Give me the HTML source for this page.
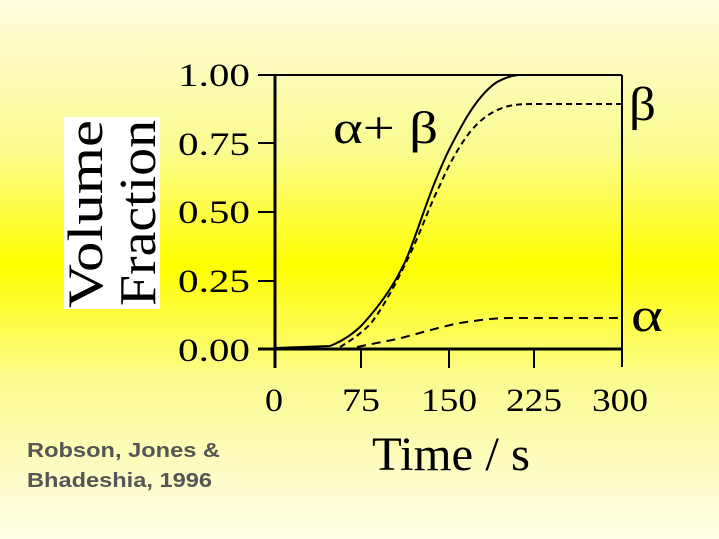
<!DOCTYPE html>
<html><head><style>
body{margin:0}
.wrap{position:relative;width:719px;height:539px;overflow:hidden;
background:linear-gradient(to bottom,#fffde0 0px,#fbfb90 150px,#ffff00 265px,#fbfb90 380px,#fffde8 539px);
font-family:"Liberation Serif",serif;}
</style></head><body><div class="wrap">
<svg width="719" height="539" style="position:absolute;left:0;top:0">
<rect x="64" y="117" width="96" height="192" fill="#fff"/>
<g font-family="Liberation Serif, serif" fill="#000">
<text transform="translate(102,308) rotate(-90)" font-size="50" textLength="188" lengthAdjust="spacingAndGlyphs">Volume</text>
<text transform="translate(155,306) rotate(-90)" font-size="52" textLength="186" lengthAdjust="spacingAndGlyphs">Fraction</text>
<g font-size="33" text-anchor="end">
<text x="250" y="86" textLength="72" lengthAdjust="spacingAndGlyphs">1.00</text>
<text x="250" y="155" textLength="72" lengthAdjust="spacingAndGlyphs">0.75</text>
<text x="250" y="223" textLength="72" lengthAdjust="spacingAndGlyphs">0.50</text>
<text x="250" y="292" textLength="72" lengthAdjust="spacingAndGlyphs">0.25</text>
<text x="250" y="361" textLength="72" lengthAdjust="spacingAndGlyphs">0.00</text>
</g>
<g font-size="33">
<text x="265" y="411" textLength="18" lengthAdjust="spacingAndGlyphs">0</text>
<text x="342" y="411" textLength="38" lengthAdjust="spacingAndGlyphs">75</text>
<text x="421" y="411" textLength="56" lengthAdjust="spacingAndGlyphs">150</text>
<text x="506" y="411" textLength="56" lengthAdjust="spacingAndGlyphs">225</text>
<text x="592" y="411" textLength="56" lengthAdjust="spacingAndGlyphs">300</text>
</g>
<text x="372" y="470" font-size="48" textLength="158" lengthAdjust="spacingAndGlyphs">Time / s</text>
<text x="333" y="143" font-size="46" textLength="105" lengthAdjust="spacingAndGlyphs">α+ β</text>
<text x="629" y="120" font-size="48" textLength="27" lengthAdjust="spacingAndGlyphs">β</text>
<text x="631" y="331" font-size="48" textLength="32" lengthAdjust="spacingAndGlyphs">α</text>
</g>
<g stroke="#000" fill="none">
<line x1="275" y1="75" x2="622" y2="75" stroke-width="2"/>
<line x1="622" y1="75" x2="622" y2="367" stroke-width="2"/>
<line x1="275" y1="75" x2="275" y2="368" stroke-width="3"/>
<line x1="258" y1="349" x2="622" y2="349" stroke-width="3"/>
<line x1="258" y1="75" x2="275" y2="75" stroke-width="2"/>
<line x1="258" y1="143" x2="275" y2="143" stroke-width="2"/>
<line x1="258" y1="212" x2="275" y2="212" stroke-width="2"/>
<line x1="258" y1="281" x2="275" y2="281" stroke-width="2"/>
<line x1="361" y1="349" x2="361" y2="368" stroke-width="2"/>
<line x1="449" y1="349" x2="449" y2="368" stroke-width="2"/>
<line x1="534" y1="349" x2="534" y2="368" stroke-width="2"/>
<path d="M275,348 L330,346 C345,340 355,332 362,325 C380,305 393,287 405,262 C415,240 425,205 437,177 C447,152 455,138 465,120 C475,103 485,90 497,82 C505,78 510,76 518,75" stroke-width="2"/>
<path d="M340,347 C355,338 365,330 372,322 C388,300 400,275 412,250 C422,228 430,205 440,185 C450,162 460,145 470,132 C480,120 490,112 505,107 C515,104 525,104 540,104 L622,104" stroke-width="2" stroke-dasharray="6,4"/>
<path d="M357,347 C375,343 390,341 405,337 C420,333 440,327 460,323 C480,320 495,318 510,318 L622,318" stroke-width="2" stroke-dasharray="9,6"/>
</g>
<g font-family="Liberation Sans, sans-serif" font-weight="bold" font-size="20" fill="#555">
<text x="27" y="457" textLength="193" lengthAdjust="spacingAndGlyphs">Robson, Jones &amp;</text>
<text x="27" y="487" textLength="185" lengthAdjust="spacingAndGlyphs">Bhadeshia, 1996</text>
</g>
</svg>
</div></body></html>
